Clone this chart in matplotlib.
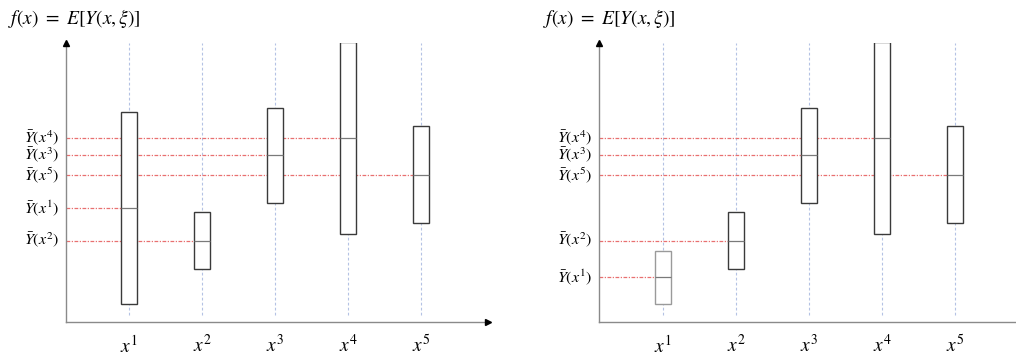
import numpy as np
import matplotlib.pyplot as plt

plt.rcParams['mathtext.fontset'] = 'stix'
plt.rcParams['font.family'] = ['DejaVu Serif']

# candidate points
xs = [1, 2, 3, 4, 5]
tick_labels = ['$x^1$', '$x^2$', '$x^3$', '$x^4$', '$x^5$']

# left panel: sample ranges and means
left_low = [0.65, 1.89, 4.27, 3.15, 3.53]
left_high = [7.52, 3.94, 7.68, 10.04, 7.01]
left_mean = [4.08, 2.91, 5.97, 6.59, 5.25]

# right panel: only x1 differs
right_low = [0.65, 1.89, 4.27, 3.15, 3.53]
right_high = [2.53, 3.94, 7.68, 10.04, 7.01]
right_mean = [1.59, 2.91, 5.97, 6.59, 5.25]

mean_labels = [r'$\bar{Y}(x^1)$', r'$\bar{Y}(x^2)$', r'$\bar{Y}(x^3)$',
               r'$\bar{Y}(x^4)$', r'$\bar{Y}(x^5)$']

W, H = 1016, 356
fig = plt.figure(figsize=(W / 100, H / 100), dpi=100)

bw = 0.22
ymax = 10.0


def panel(left_px, right_px, tick1_px, low, high, mean, box_edges, x_arrow):
    ax = fig.add_axes([left_px / W, (H - 321.7) / H,
                       (right_px - left_px) / W, (321.7 - 43) / H])
    xmin = 1 - (tick1_px - left_px) / 73.0
    xmax = 1 + (right_px - tick1_px) / 73.0
    ax.set_xlim(xmin, xmax)
    ax.set_ylim(0, ymax)

    ax.vlines(xs, 0.24, ymax, colors='#b4c2e4', linestyles=(0, (2.5, 2)),
              lw=0.8, zorder=1)
    for x, m in zip(xs, mean):
        ax.hlines(m, xmin, x - bw / 2, colors='#e87070',
                  linestyles=(0, (3, 1.2, 1, 1.2)), lw=0.9, zorder=1)
    ax.bar(xs, np.array(high) - np.array(low), bottom=low, width=bw,
           facecolor='white', edgecolor=box_edges, lw=1.0, zorder=3)
    ax.hlines(mean, np.array(xs) - bw / 2, np.array(xs) + bw / 2,
              colors='#7a7a7a', lw=0.9, zorder=4)

    for m, lab in zip(mean, mean_labels):
        ax.annotate(lab, xy=(xmin, m), xytext=(-5, 0),
                    textcoords='offset points', ha='right', va='center',
                    fontsize=11.5)

    for s in ['top', 'right']:
        ax.spines[s].set_visible(False)
    for s in ['left', 'bottom']:
        ax.spines[s].set_color('#8a8a8a')
        ax.spines[s].set_linewidth(1.0)
    ax.set_yticks([])
    ax.set_xticks(xs)
    ax.set_xticklabels(tick_labels, fontsize=14)
    ax.tick_params(axis='x', length=0, pad=9)
    ax.plot([xmin], [ymax], marker='^', color='black', ms=4,
            clip_on=False, zorder=5)
    if x_arrow:
        ax.plot([xmax], [0], marker='>', color='black', ms=4,
                clip_on=False, zorder=5)
    return ax


edges_left = ['#3a3a3a'] * 5
edges_right = ['#9a9a9a'] + ['#3a3a3a'] * 4

panel(65.7, 488, 129.3, left_low, left_high, left_mean, edges_left, True)
panel(599.3, 1016, 663.3, right_low, right_high, right_mean, edges_right,
      False)

fig.text(8 / W, 1 - 18 / H, r'$f(x)\ =\ E[Y(x,\xi)]$', fontsize=14,
         ha='left', va='center')
fig.text(543 / W, 1 - 18 / H, r'$f(x)\ =\ E[Y(x,\xi)]$', fontsize=14,
         ha='left', va='center')

fig.savefig('out.png', dpi=100)
